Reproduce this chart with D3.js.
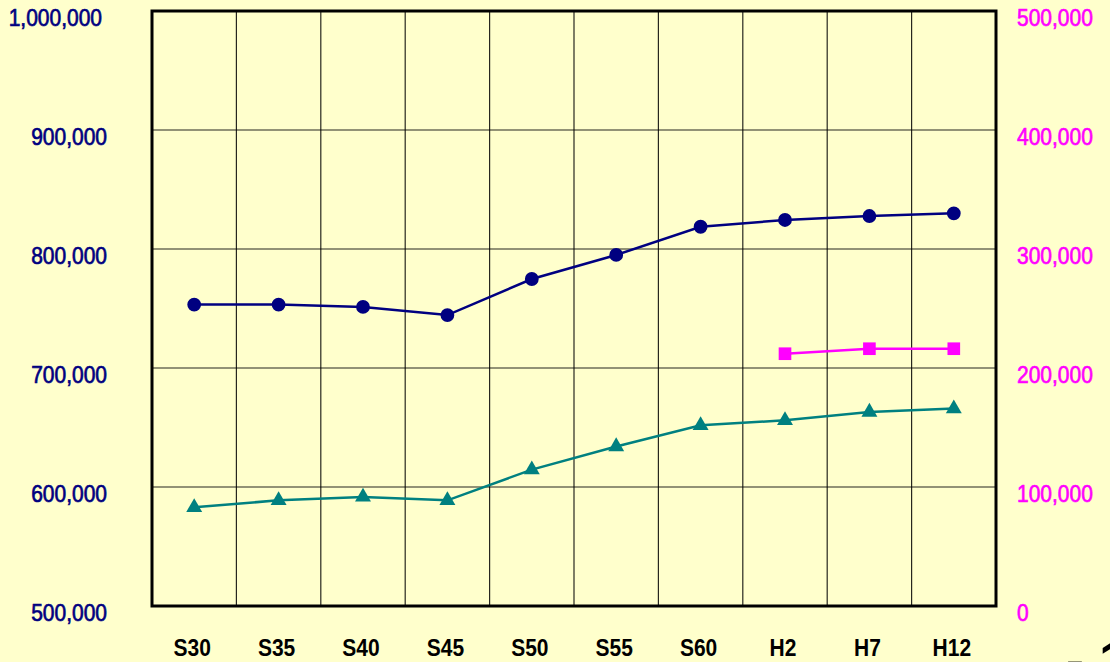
<!DOCTYPE html>
<html>
<head>
<meta charset="utf-8">
<script src="https://cdn.jsdelivr.net/npm/d3@7"></script>
<style>
  body { margin: 0; background: #ffffcc; }
  svg { display: block; }
</style>
</head>
<body>
<svg id="chart" width="1110" height="662"></svg>
<script>
// data
const periods = ["S30", "S35", "S40", "S45", "S50", "S55", "S60", "H2", "H7", "H12"];
const navySeries = [753300, 753300, 751300, 744500, 774800, 795000, 818700, 824400, 827700, 830000];
const tealSeries = [582900, 588800, 591600, 588800, 614600, 634000, 651800, 656000, 663000, 665900];
const pinkSeries = [null, null, null, null, null, null, null, 212000, 216200, 216200];
const leftTicks = [500000, 600000, 700000, 800000, 900000, 1000000];
const rightTicks = [0, 100000, 200000, 300000, 400000, 500000];

// dimensions
const plot = {left: 152, right: 996, top: 11, bottom: 606};
const navy = "#000080", teal = "#008080", pink = "#ff00ff";
const fmt = d3.format(",");

const svg = d3.select("#chart");

const x = d3.scaleBand().domain(periods).range([plot.left, plot.right]);
const yL = d3.scaleLinear().domain([500000, 1000000]).range([plot.bottom, plot.top]);
const yR = d3.scaleLinear().domain([0, 500000]).range([plot.bottom, plot.top]);

// background of plot
svg.append("rect")
  .attr("x", plot.left).attr("y", plot.top)
  .attr("width", plot.right - plot.left).attr("height", plot.bottom - plot.top)
  .attr("fill", "#ffffcc");

// grid
const grid = svg.append("g").attr("stroke", "#000").attr("stroke-width", 1.2).attr("stroke-opacity", 0.85);
grid.selectAll(".vg").data(periods.slice(1)).join("line")
  .attr("x1", d => x(d)).attr("x2", d => x(d))
  .attr("y1", plot.top).attr("y2", plot.bottom);
grid.selectAll(".hg").data(leftTicks.slice(1, -1)).join("line")
  .attr("x1", plot.left).attr("x2", plot.right)
  .attr("y1", d => yL(d)).attr("y2", d => yL(d));

// frame
svg.append("rect")
  .attr("x", plot.left).attr("y", plot.top)
  .attr("width", plot.right - plot.left).attr("height", plot.bottom - plot.top)
  .attr("fill", "none").attr("stroke", "#000").attr("stroke-width", 3);

// axis labels
const labelFont = "'Liberation Sans', Arial, sans-serif";
const tickText = function(sel){
  sel.style("font-family", labelFont).style("font-size", "21px");
};

svg.append("g").selectAll("text").data(leftTicks).join("text")
  .attr("transform", d => `translate(${d === 1000000 ? 102 : 107}, ${yL(d) + 15}) scale(1,1.15)`)
  .attr("text-anchor", "end")
  .attr("fill", navy)
  .attr("stroke", navy).attr("stroke-width", 0.6)
  .text(d => fmt(d))
  .call(tickText);

svg.append("g").selectAll("text").data(rightTicks).join("text")
  .attr("transform", d => `translate(1017, ${yR(d) + 15}) scale(1,1.15)`)
  .attr("fill", pink)
  .attr("stroke", pink).attr("stroke-width", 0.6)
  .text(d => fmt(d))
  .call(tickText);

svg.append("g").selectAll("text").data(periods).join("text")
  .attr("transform", d => `translate(${x(d) + x.bandwidth() / 2 - 2}, 656) scale(1,1.15)`)
  .attr("text-anchor", "middle")
  .attr("fill", "#000")
  .style("font-weight", "bold")
  .text(d => d)
  .call(tickText);

// series
const cx = (d, i) => x(periods[i]) + x.bandwidth() / 2;

function drawSeries(values, scale, colour, symbolType, size){
  const pts = values.map((v, i) => ({v, i})).filter(d => d.v !== null);
  const line = d3.line().x(d => cx(d, d.i)).y(d => scale(d.v));
  svg.append("path")
    .datum(pts)
    .attr("d", line)
    .attr("fill", "none")
    .attr("stroke", colour)
    .attr("stroke-width", 2.5);
  svg.append("g").selectAll("path").data(pts).join("path")
    .attr("d", d3.symbol().type(symbolType).size(size))
    .attr("transform", d => `translate(${cx(d, d.i)}, ${scale(d.v)})`)
    .attr("fill", colour);
}

drawSeries(navySeries, yL, navy, d3.symbolCircle, 150);
drawSeries(tealSeries, yL, teal, d3.symbolTriangle, 110);
drawSeries(pinkSeries, yR, pink, d3.symbolSquare, 160);

// cut-off page mark at the bottom right
svg.append("text")
  .attr("x", 1066).attr("y", 679)
  .style("font-family", labelFont)
  .style("font-size", "54px")
  .style("font-weight", "bold")
  .text("- 1");
</script>
</body>
</html>
